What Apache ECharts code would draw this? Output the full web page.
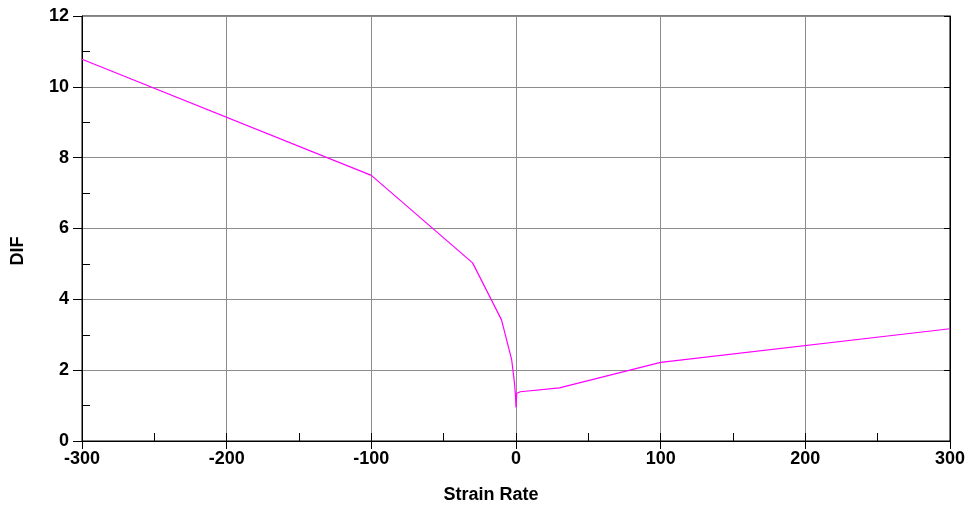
<!DOCTYPE html>
<html>
<head>
<meta charset="utf-8">
<script src="https://cdn.jsdelivr.net/npm/echarts@6/dist/echarts.min.js"></script>
<style>
html,body{margin:0;padding:0;background:#fff;}
#chart{width:968px;height:507px;}
</style>
</head>
<body>
<div id="chart"></div>
<script>
const strainRate = [-300, -100, -30, -10, -3, -1, -0.3, 0, 0.5, 3, 30, 100, 300];
const dif        = [10.78, 7.5, 5.03, 3.42, 2.3, 1.62, 1.25, 0.95, 1.35, 1.39, 1.5, 2.22, 3.17];
const xTitle = 'Strain Rate';
const yTitle = 'DIF';

const FONT = '"Liberation Sans", Arial, sans-serif';
const chart = echarts.init(document.getElementById('chart'), null, {renderer: 'canvas'});
const labelStyle = {color: '#000', fontFamily: FONT, fontWeight: 'bold', fontSize: 18};

chart.setOption({
  animation: false,
  backgroundColor: '#fff',
  grid: {left: 82, right: 17, top: 16, bottom: 66, show: true, borderColor: '#000', borderWidth: 1},
  xAxis: [
    {
      type: 'value', position: 'bottom', min: -300, max: 300, interval: 100,
      axisLine: {show: true, onZero: false, lineStyle: {color: '#000', width: 1}},
      axisTick: {show: true, inside: true, length: 8, lineStyle: {color: '#000'}},
      minorTick: {show: true, splitNumber: 2, length: 8, lineStyle: {color: '#000'}},
      splitLine: {show: true, lineStyle: {color: '#8c8c8c', width: 1}},
      axisLabel: Object.assign({margin: 9}, labelStyle)
    },
    {
      type: 'value', position: 'bottom', min: -300, max: 300, interval: 100,
      axisLine: {show: false, onZero: false},
      axisTick: {show: true, inside: false, length: 8, lineStyle: {color: '#000'}},
      splitLine: {show: false},
      axisLabel: {show: false}
    }
  ],
  yAxis: [
    {
      type: 'value', position: 'left', min: 0, max: 12, interval: 2,
      axisLine: {show: true, onZero: false, lineStyle: {color: '#000', width: 1}},
      axisTick: {show: true, inside: false, length: 9, lineStyle: {color: '#000'}},
      splitLine: {show: true, lineStyle: {color: '#8c8c8c', width: 1}},
      axisLabel: Object.assign({margin: 13}, labelStyle)
    },
    {
      type: 'value', position: 'left', min: 0, max: 12, interval: 2,
      axisLine: {show: false, onZero: false},
      axisTick: {show: false, inside: true},
      minorTick: {show: true, splitNumber: 2, length: 8, lineStyle: {color: '#000'}},
      splitLine: {show: false},
      axisLabel: {show: false}
    },
    {
      type: 'value', position: 'right', min: 0, max: 12, interval: 2,
      axisLine: {show: true, onZero: false, lineStyle: {color: '#000', width: 1}},
      axisTick: {show: true, inside: true, length: 6, lineStyle: {color: '#000'}},
      splitLine: {show: false},
      axisLabel: {show: false}
    }
  ],
  graphic: [
    {type: 'text', x: 491, y: 495, style: {text: xTitle, align: 'center', verticalAlign: 'middle', fill: '#000', font: 'bold 18px ' + FONT}},
    {type: 'text', x: 18, y: 251, rotation: Math.PI / 2, style: {text: yTitle, align: 'center', verticalAlign: 'middle', fill: '#000', font: 'bold 18px ' + FONT}}
  ],
  series: [{
    type: 'line',
    xAxisIndex: 0, yAxisIndex: 0,
    data: strainRate.map((x, i) => [x, dif[i]]),
    showSymbol: false,
    lineStyle: {color: '#ff00ff', width: 1.2},
    itemStyle: {color: '#ff00ff'}
  }]
});
</script>
</body>
</html>
